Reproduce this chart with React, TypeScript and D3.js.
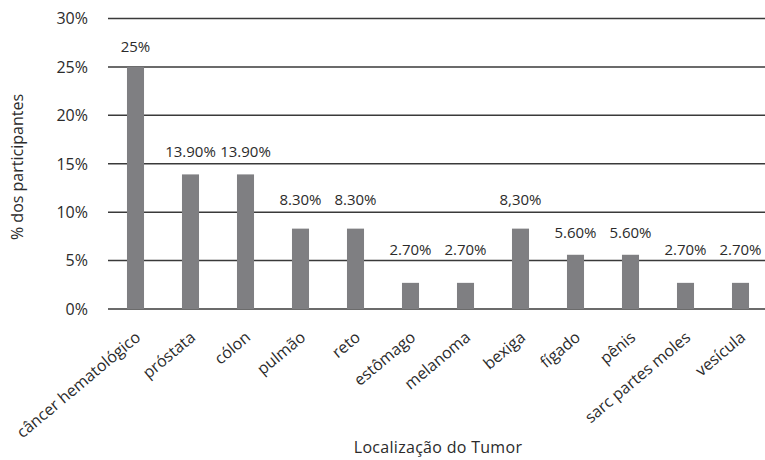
import * as d3 from "d3";
import React from "react";

const categories = [
  "câncer hematológico", "próstata", "cólon", "pulmão", "reto", "estômago",
  "melanoma", "bexiga", "fígado", "pênis", "sarc partes moles", "vesícula",
]
const values = [25, 13.9, 13.9, 8.3, 8.3, 2.7, 2.7, 8.3, 5.6, 5.6, 2.7, 2.7]
const valueLabels = [
  "25%", "13.90%", "13.90%", "8.30%", "8.30%", "2.70%",
  "2.70%", "8,30%", "5.60%", "5.60%", "2.70%", "2.70%",
]
const yTicks = [0, 5, 10, 15, 20, 25, 30]

// labels were placed by hand in the original, lift above bar top in px
const labelLift = [15, 17, 17, 24, 24, 28, 28, 24, 17, 17, 28, 28]

const width = 765
const height = 460
const font = "'Open Sans', sans-serif"
const textColor = "#2b2b2b"

export function App() {
  const x = d3.scaleBand<string>().domain(categories).range([108, 768]).paddingInner(0.69).paddingOuter(0.345)
  const y = d3.scaleLinear().domain([0, 30]).range([309, 18.5])

  return (
    <svg width={width} height={height} style={{ position: "absolute", left: 0, top: 0, display: "block" }} fontFamily={font}>
      {yTicks.map(t => (
        <g key={t}>
          <line x1={108} x2={width} y1={y(t)} y2={y(t)} stroke="#3a3a3a" strokeWidth={1.5} />
          <text x={88} y={y(t)} dy="0.36em" textAnchor="end" fontSize={16} fill={textColor}>{t}%</text>
        </g>
      ))}
      {categories.map((c, i) => {
        const cx = x(c)! + x.bandwidth() / 2
        return (
          <g key={c}>
            <rect x={x(c)} y={y(values[i])} width={x.bandwidth()} height={y(0) - y(values[i])} fill="#7f7f82" />
            <text x={cx} y={y(values[i]) - labelLift[i]} textAnchor="middle" fontSize={15} fill={textColor}>{valueLabels[i]}</text>
            <text transform={`translate(${cx + 6}, ${339}) rotate(-40)`} textAnchor="end" fontSize={16} fill={textColor}>{c}</text>
          </g>
        )
      })}
      <text x={438} y={453} textAnchor="middle" fontSize={16} fill={textColor} letterSpacing={0.3}>Localização do Tumor</text>
      <text transform={`translate(23, 167) rotate(-90)`} textAnchor="middle" fontSize={16} fill={textColor}>% dos participantes</text>
    </svg>
  );
}

export default App;
